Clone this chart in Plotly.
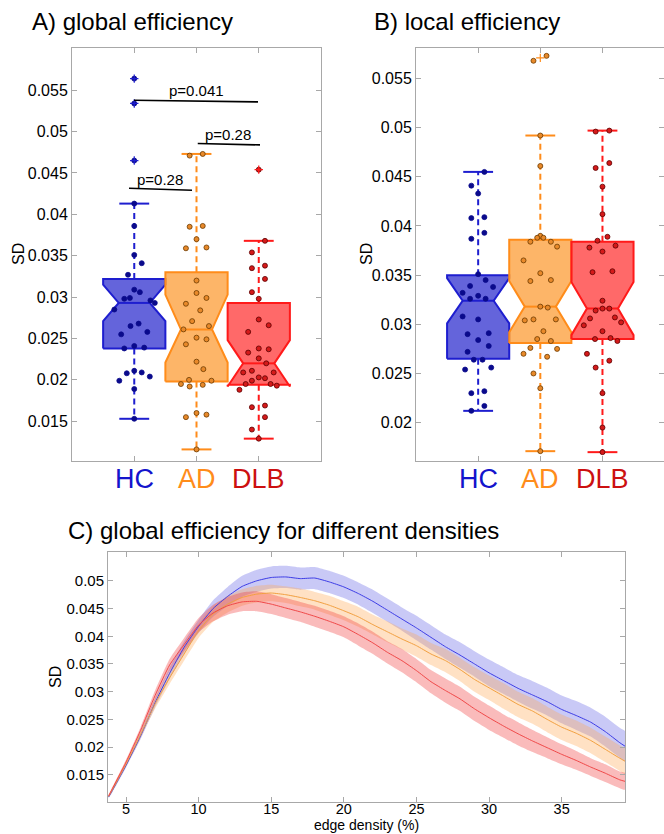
import plotly.graph_objects as go

W, H = 664, 834
FONT = "Liberation Sans, Arial, Helvetica, sans-serif"

groups = ["HC", "AD", "DLB"]
label_colors = ["#1414CC", "#FF8C1A", "#CC1010"]
edge_colors = ["#1E1ECF", "#FF8C1A", "#FF1A1A"]
fill_colors = ["rgba(20,20,200,0.66)", "rgba(252,150,40,0.70)", "rgba(255,20,20,0.64)"]
dot_colors = ["#0A0A8C", "#E8892A", "#D41A1A"]
dot_edges = ["#0A0A8C", "#6B3A00", "#5A0000"]

# ---------------- Panel A: global efficiency ----------------
A_HC = [0.0564, 0.0534, 0.0465, 0.0413, 0.0386, 0.0351, 0.0341, 0.0327, 0.0309, 0.0306,
        0.0299, 0.0298, 0.0296, 0.0293, 0.0285, 0.0268, 0.0265, 0.0258, 0.0255, 0.0241,
        0.0239, 0.0238, 0.0211, 0.0209, 0.0208, 0.0204, 0.0199, 0.0189, 0.0153]
A_HC_jit = [0, 0, 0, 0, 0, 0, 0.12, -0.10, 0, 0.09,
            -0.07, -0.16, 0.26, 0.33, -0.32, 0.07, -0.06, 0.21, -0.21, 0,
            0.16, -0.16, 0, 0.12, -0.12, 0.25, -0.24, 0, 0]
A_AD = [0.0471, 0.0473, 0.0385, 0.0386, 0.0370, 0.0359, 0.0360, 0.0320, 0.0305, 0.0299,
        0.0292, 0.0284, 0.0271, 0.0265, 0.0261, 0.0251, 0.0249, 0.0243, 0.0222, 0.0213,
        0.0200, 0.0199, 0.0195, 0.0192, 0.0194, 0.0160, 0.0155, 0.0158, 0.0116]
A_AD_jit = [-0.11, 0.10, -0.11, 0.10, 0, -0.17, 0.16, 0, 0, 0.16,
            -0.17, 0.06, -0.07, 0.20, -0.21, 0, 0.16, -0.17, 0, 0.11,
            -0.12, 0.24, -0.25, -0.11, 0.10, 0, -0.17, 0.16, 0]
A_DLB = [0.0454, 0.0368, 0.0354, 0.0335, 0.0338, 0.0322, 0.0306, 0.0298, 0.0273, 0.0266,
         0.0258, 0.0233, 0.0238, 0.0237, 0.0226, 0.0220, 0.0211, 0.0209, 0.0209, 0.0203,
         0.0202, 0.0199, 0.0195, 0.0195, 0.0193, 0.0188, 0.0167, 0.0169, 0.0155, 0.0140, 0.0129]
A_DLB_jit = [0, 0.10, -0.11, -0.11, 0.10, 0.10, -0.11, 0, 0, 0.16,
             -0.17, -0.17, 0, 0.16, 0, 0.12, -0.11, -0.25, 0.24, 0,
             0.10, -0.11, -0.21, 0.19, 0.29, -0.31, -0.11, 0.10, 0.10, -0.11, 0]

A_q1 = [0.0238, 0.0198, 0.0194]
A_med = [0.0293, 0.0261, 0.0220]
A_q3 = [0.0322, 0.0330, 0.0293]
A_nlo = [0.0271, 0.0221, 0.0192]
A_nhi = [0.0315, 0.0303, 0.0248]
A_wlo = [0.0153, 0.0116, 0.0129]
A_whi = [0.0413, 0.0473, 0.0368]
A_out = [[0.0564, 0.0534, 0.0465], [], [0.0454]]

A_yticks = [0.015, 0.02, 0.025, 0.03, 0.035, 0.04, 0.045, 0.05, 0.055]
A_yticktext = ["0.015", "0.02", "0.025", "0.03", "0.035", "0.04", "0.045", "0.05", "0.055"]

# ---------------- Panel B: local efficiency ----------------
B_HC = [0.0455, 0.0441, 0.0433, 0.0408, 0.0409, 0.0393, 0.0387, 0.0351, 0.0345, 0.0339,
        0.0338, 0.0332, 0.0326, 0.0329, 0.0326, 0.0308, 0.0305, 0.0290, 0.0291, 0.0284,
        0.0278, 0.0272, 0.0264, 0.0264, 0.0254, 0.0256, 0.0230, 0.0232, 0.0217, 0.0212]
B_HC_jit = [0.10, -0.11, 0, -0.11, 0.10, 0.10, -0.11, 0, 0.12, -0.13,
            0.24, -0.25, -0.13, 0, 0.12, -0.25, 0, -0.17, 0.17, 0,
            0.17, -0.17, -0.07, 0.07, -0.21, 0.21, -0.11, 0.10, 0.10, -0.11]
B_AD = [0.0568, 0.0573, 0.0492, 0.0461, 0.0390, 0.0388, 0.0388, 0.0384, 0.0384, 0.0379,
        0.0365, 0.0352, 0.0344, 0.0345, 0.0318, 0.0317, 0.0304, 0.0305, 0.0305, 0.0293,
        0.0285, 0.0283, 0.0276, 0.0275, 0.0270, 0.0267, 0.0250, 0.0235, 0.0171]
B_AD_jit = [-0.11, 0.10, 0, 0, 0, -0.05, 0.05, -0.16, 0.17, 0.27,
            -0.27, 0, -0.16, 0.17, 0, 0.12, -0.25, -0.11, 0.25, 0.05,
            -0.05, 0.17, -0.16, 0.27, -0.27, 0.11, -0.11, 0, 0]
B_DLB = [0.0496, 0.0497, 0.0459, 0.0464, 0.0440, 0.0412, 0.0389, 0.0385, 0.0378, 0.0380,
         0.0374, 0.0353, 0.0354, 0.0324, 0.0314, 0.0316, 0.0316, 0.0306, 0.0307, 0.0299,
         0.0302, 0.0293, 0.0285, 0.0286, 0.0283, 0.0270, 0.0263, 0.0256, 0.0230, 0.0195, 0.0170]
B_DLB_jit = [-0.11, 0.11, -0.11, 0.11, 0, 0, 0.08, -0.08, -0.21, 0.21,
             0, -0.16, 0.16, 0, -0.11, 0, 0.11, -0.20, 0.20, -0.30,
             0.30, 0, -0.12, 0.13, 0.24, -0.25, 0.11, -0.11, 0, 0, 0]

B_q1 = [0.0265, 0.0281, 0.0285]
B_med = [0.0324, 0.0318, 0.0316]
B_q3 = [0.0350, 0.0386, 0.0384]
B_nlo = [0.0301, 0.0292, 0.0289]
B_nhi = [0.0347, 0.0344, 0.0343]
B_wlo = [0.0212, 0.0171, 0.0170]
B_whi = [0.0455, 0.0492, 0.0497]
B_out = [[], [0.0571], []]

B_yticks = [0.02, 0.025, 0.03, 0.035, 0.04, 0.045, 0.05, 0.055]
B_yticktext = ["0.02", "0.025", "0.03", "0.035", "0.04", "0.045", "0.05", "0.055"]

# ---------------- Panel C: global efficiency vs density ----------------
C_x = [3.8, 4, 5, 6, 7, 8, 9, 10, 11, 12, 13, 14, 15, 16, 17, 18, 19, 20, 21, 22,
       23, 24, 25, 26, 27, 28, 29, 30, 31, 32, 33, 34, 35, 36, 37, 38, 39, 39.4]
C_HC = [0.0110, 0.0119, 0.0167, 0.0220, 0.0280, 0.0333, 0.0380, 0.0418, 0.0450, 0.0472,
        0.0490, 0.0500, 0.0506, 0.0507, 0.0504, 0.0505, 0.0498, 0.0489, 0.0477, 0.0463,
        0.0447, 0.0431, 0.0415, 0.0398, 0.0381, 0.0366, 0.0350, 0.0334, 0.0320, 0.0306,
        0.0294, 0.0282, 0.0268, 0.0257, 0.0245, 0.0228, 0.0208, 0.0201]
C_AD = [0.0111, 0.0120, 0.0169, 0.0222, 0.0278, 0.0325, 0.0368, 0.0410, 0.0440, 0.0458,
        0.0470, 0.0476, 0.0478, 0.0475, 0.0470, 0.0464, 0.0456, 0.0446, 0.0435, 0.0421,
        0.0408, 0.0395, 0.0383, 0.0368, 0.0356, 0.0340, 0.0322, 0.0307, 0.0292, 0.0277,
        0.0265, 0.0250, 0.0236, 0.0225, 0.0212, 0.0196, 0.0180, 0.0174]
C_DLB = [0.0112, 0.0122, 0.0173, 0.0230, 0.0293, 0.0348, 0.0385, 0.0420, 0.0442, 0.0455,
         0.0462, 0.0463, 0.0458, 0.0451, 0.0444, 0.0436, 0.0427, 0.0417, 0.0403, 0.0388,
         0.0371, 0.0356, 0.0338, 0.0318, 0.0302, 0.0287, 0.0269, 0.0253, 0.0238, 0.0224,
         0.0211, 0.0199, 0.0187, 0.0176, 0.0164, 0.0153, 0.0141, 0.0138]
C_HC_err = [0.0002, 0.0003, 0.0004, 0.0006, 0.0008, 0.0010, 0.0011, 0.0012, 0.0015, 0.0017,
            0.0019, 0.0020, 0.0020, 0.0020, 0.0020, 0.0020, 0.0020, 0.0020, 0.0020, 0.0021,
            0.0021, 0.0021, 0.0022, 0.0022, 0.0022, 0.0023, 0.0023, 0.0024, 0.0024, 0.0024,
            0.0025, 0.0025, 0.0025, 0.0026, 0.0026, 0.0027, 0.0027, 0.0027]
C_AD_err = [0.0002, 0.0003, 0.0004, 0.0006, 0.0009, 0.0011, 0.0012, 0.0013, 0.0014, 0.0015,
            0.0015, 0.0015, 0.0015, 0.0015, 0.0016, 0.0016, 0.0017, 0.0017, 0.0018, 0.0018,
            0.0019, 0.0019, 0.0020, 0.0020, 0.0021, 0.0021, 0.0022, 0.0022, 0.0023, 0.0023,
            0.0023, 0.0023, 0.0023, 0.0023, 0.0023, 0.0023, 0.0023, 0.0023]
C_DLB_err = [0.0002, 0.0003, 0.0004, 0.0006, 0.0009, 0.0011, 0.0012, 0.0013, 0.0015, 0.0016,
             0.0017, 0.0018, 0.0018, 0.0018, 0.0018, 0.0019, 0.0019, 0.0019, 0.0020, 0.0020,
             0.0020, 0.0021, 0.0021, 0.0021, 0.0022, 0.0022, 0.0022, 0.0022, 0.0021, 0.0021,
             0.0020, 0.0019, 0.0018, 0.0017, 0.0016, 0.0016, 0.0015, 0.0015]
C_xticks = [5, 10, 15, 20, 25, 30, 35]
C_yticks = [0.015, 0.02, 0.025, 0.03, 0.035, 0.04, 0.045, 0.05]
C_yticktext = ["0.015", "0.02", "0.025", "0.03", "0.035", "0.04", "0.045", "0.05"]

band_fill = ["rgba(100,100,230,0.35)", "rgba(255,170,85,0.35)", "rgba(240,60,60,0.35)"]
band_line = ["#3C3CE6", "#F2A040", "#F04848"]

fig = go.Figure()


def add_boxplot(xa, ya, q1, med, q3, nlo, nhi, wlo, whi, outs, pts, jits):
    for i in range(3):
        p = i + 1
        bw, nw, cw = 0.5, 0.25, 0.24
        # whiskers (dashed)
        fig.add_trace(go.Scatter(
            x=[p, p, None, p, p], y=[q3[i], whi[i], None, q1[i], wlo[i]],
            mode="lines", line=dict(color=edge_colors[i], width=2, dash="6px,4px"),
            xaxis=xa, yaxis=ya, hoverinfo="skip", showlegend=False))
        # caps
        fig.add_trace(go.Scatter(
            x=[p - cw, p + cw, None, p - cw, p + cw], y=[whi[i], whi[i], None, wlo[i], wlo[i]],
            mode="lines", line=dict(color=edge_colors[i], width=2),
            xaxis=xa, yaxis=ya, hoverinfo="skip", showlegend=False))
        # notched box
        bx = [p - bw, p - bw, p - nw, p - bw, p - bw, p + bw, p + bw, p + nw, p + bw, p + bw, p - bw]
        by = [q1[i], nlo[i], med[i], nhi[i], q3[i], q3[i], nhi[i], med[i], nlo[i], q1[i], q1[i]]
        fig.add_trace(go.Scatter(
            x=bx, y=by, mode="lines", fill="toself", fillcolor=fill_colors[i],
            line=dict(color=edge_colors[i], width=2),
            xaxis=xa, yaxis=ya, hoverinfo="skip", showlegend=False))
        # median
        fig.add_trace(go.Scatter(
            x=[p - nw, p + nw], y=[med[i], med[i]], mode="lines",
            line=dict(color=edge_colors[i], width=2),
            xaxis=xa, yaxis=ya, hoverinfo="skip", showlegend=False))
        # individual points
        fig.add_trace(go.Scatter(
            x=[p + j for j in jits[i]], y=pts[i], mode="markers",
            marker=dict(size=5, color=dot_colors[i], line=dict(color=dot_edges[i], width=0.8)),
            xaxis=xa, yaxis=ya, hoverinfo="skip", showlegend=False))
        # outliers
        if outs[i]:
            fig.add_trace(go.Scatter(
                x=[p] * len(outs[i]), y=outs[i], mode="markers",
                marker=dict(symbol="cross-thin", size=6, line=dict(color=edge_colors[i], width=1.2)),
                xaxis=xa, yaxis=ya, hoverinfo="skip", showlegend=False))


add_boxplot("x", "y", A_q1, A_med, A_q3, A_nlo, A_nhi, A_wlo, A_whi, A_out,
            [A_HC, A_AD, A_DLB], [A_HC_jit, A_AD_jit, A_DLB_jit])
add_boxplot("x2", "y2", B_q1, B_med, B_q3, B_nlo, B_nhi, B_wlo, B_whi, B_out,
            [B_HC, B_AD, B_DLB], [B_HC_jit, B_AD_jit, B_DLB_jit])

# significance brackets in panel A
sig = [
    (0.996, 2.988, 0.05379, 0.05359, 2.0, 0.05494, "p=0.041"),
    (2.02, 3.02, 0.04856, 0.04839, 2.506, 0.04968, "p=0.28"),
    (0.916, 1.928, 0.04316, 0.04292, 1.414, 0.04421, "p=0.28"),
]
for x0, x1, y0, y1, tx, ty, txt in sig:
    fig.add_trace(go.Scatter(x=[x0, x1], y=[y0, y1], mode="lines",
                             line=dict(color="black", width=1.6),
                             xaxis="x", yaxis="y", hoverinfo="skip", showlegend=False))
    fig.add_annotation(x=tx, y=ty, xref="x", yref="y", text=txt, showarrow=False,
                       font=dict(family=FONT, size=15, color="black"))

# Panel C bands & lines
C_means = [C_HC, C_AD, C_DLB]
C_errs = [C_HC_err, C_AD_err, C_DLB_err]
for i in range(3):
    up = [m + e for m, e in zip(C_means[i], C_errs[i])]
    lo = [m - e for m, e in zip(C_means[i], C_errs[i])]
    fig.add_trace(go.Scatter(
        x=C_x + C_x[::-1], y=up + lo[::-1], mode="lines", fill="toself",
        fillcolor=band_fill[i], line=dict(width=0, color=band_fill[i], shape="spline", smoothing=0.5),
        xaxis="x3", yaxis="y3", hoverinfo="skip", showlegend=False))
for i in range(3):
    fig.add_trace(go.Scatter(
        x=C_x, y=C_means[i], mode="lines",
        line=dict(color=band_line[i], width=1, shape="spline", smoothing=0.5),
        xaxis="x3", yaxis="y3", hoverinfo="skip", showlegend=False))

axis_common = dict(showline=True, mirror="ticks", linecolor="#A8A8A8", linewidth=1,
                   ticks="inside", ticklen=5, tickcolor="#A8A8A8", tickwidth=1,
                   showgrid=False, zeroline=False)
tf16 = dict(family=FONT, size=16, color="black")
tf15 = dict(family=FONT, size=15, color="black")
tf145 = dict(family=FONT, size=14.5, color="black")

fig.update_layout(
    width=W, height=H, margin=dict(l=0, r=0, t=0, b=0),
    paper_bgcolor="white", plot_bgcolor="white", showlegend=False,
    font=dict(family=FONT, color="black"),
    xaxis=dict(domain=[72 / W, 321 / W], range=[0, 4], tickvals=[1, 2, 3],
               showticklabels=False, anchor="y", tickfont=tf16, **axis_common),
    yaxis=dict(domain=[1 - 461 / H, 1 - 48 / H], range=[0.0102, 0.0601],
               tickvals=A_yticks, ticktext=A_yticktext, anchor="x", tickfont=tf16, **axis_common),
    xaxis2=dict(domain=[416 / W, 1.0], range=[0, 3.99], tickvals=[1, 2, 3],
                showticklabels=False, anchor="y2", tickfont=tf16, **axis_common),
    yaxis2=dict(domain=[1 - 461 / H, 1 - 48 / H], range=[0.0161, 0.0581],
                tickvals=B_yticks, ticktext=B_yticktext, anchor="x2", tickfont=tf16, **axis_common),
    xaxis3=dict(domain=[108 / W, 625 / W], range=[3.76, 39.36], tickvals=C_xticks,
                anchor="y3", tickfont=tf145, ticklabelstandoff=-6, **axis_common),
    yaxis3=dict(domain=[1 - 802 / H, 1 - 552 / H], range=[0.0101, 0.0552],
                tickvals=C_yticks, ticktext=C_yticktext, anchor="x3", tickfont=tf15, **axis_common),
)

# category labels
for xa in ["x", "x2"]:
    for i, g in enumerate(groups):
        fig.add_annotation(x=i + 1, y=1 - 479 / H, xref=xa, yref="paper", text=g,
                           showarrow=False, yanchor="middle",
                           font=dict(family=FONT, size=27, color=label_colors[i]))

# panel titles
titles = [("A) global efficiency", 30 / W, 1 - 22 / H),
          ("B) local efficiency", 372 / W, 1 - 22 / H),
          ("C) global efficiency for different densities", 66 / W, 1 - 530 / H)]
for t, x, y in titles:
    fig.add_annotation(x=x, y=y, xref="paper", yref="paper", text=t, showarrow=False,
                       xanchor="left", yanchor="middle",
                       font=dict(family=FONT, size=24, color="black"))

# y labels
for x, y in [(18, 254), (366, 254), (55, 677)]:
    fig.add_annotation(x=x / W, y=1 - y / H, xref="paper", yref="paper", text="SD",
                       showarrow=False, textangle=-90, xanchor="center", yanchor="middle",
                       font=dict(family=FONT, size=16, color="black"))

fig.add_annotation(x=366 / W, y=0, xref="paper", yref="paper",
                   text="edge density (%)", showarrow=False, xanchor="center", yanchor="bottom",
                   borderpad=0, font=dict(family=FONT, size=14, color="black"))

fig.write_html("out.html")
